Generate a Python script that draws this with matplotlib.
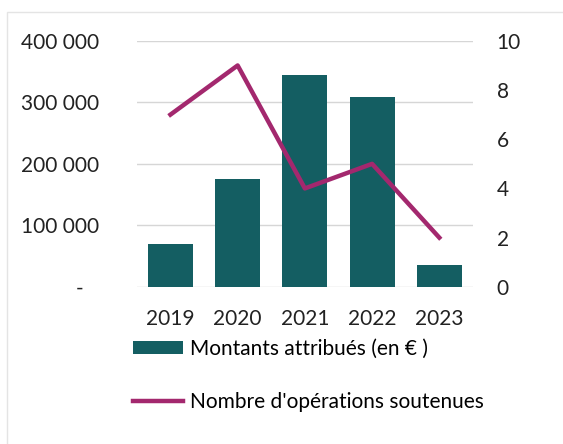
import matplotlib.pyplot as plt
from matplotlib.patches import Rectangle
from matplotlib.ticker import FuncFormatter

years = ["2019", "2020", "2021", "2022", "2023"]
montants = [70000, 175000, 345000, 308000, 35000]
operations = [7, 9, 4, 5, 2]

bar_color = "#145e62"
line_color = "#a3286e"

plt.rcParams["font.family"] = ["Lato", "DejaVu Sans"]
plt.rcParams["font.size"] = 15

fig = plt.figure(figsize=(5.63, 4.44), dpi=100)
ax = fig.add_axes([0.243, 0.354, 0.597, 0.554])

x = range(len(years))
bars = ax.bar(x, montants, width=0.67, color=bar_color, zorder=2,
              label="Montants attribués (en € )")
ax.set_xlim(-0.5, 4.5)
ax.set_ylim(0, 400000)
ax.set_yticks([0, 100000, 200000, 300000, 400000])


def fmt(v, pos):
    if v == 0:
        return "-   "
    return f"{int(v):,}".replace(",", " ")


ax.yaxis.set_major_formatter(FuncFormatter(fmt))
ax.set_xticks(list(x))
ax.set_xticklabels(years)
ax.grid(axis="y", color="#d6d6d6", linewidth=1, zorder=0)
for s in ax.spines.values():
    s.set_visible(False)
ax.tick_params(length=0, colors="#222222")
ax.tick_params(axis="y", pad=27)
ax.tick_params(axis="x", pad=16)

ax2 = ax.twinx()
line, = ax2.plot(x, operations, color=line_color, linewidth=3.2, zorder=3,
                 label="Nombre d'opérations soutenues")
ax2.set_ylim(0, 10)
ax2.set_yticks([0, 2, 4, 6, 8, 10])
for s in ax2.spines.values():
    s.set_visible(False)
ax2.tick_params(length=0, colors="#222222", pad=17)

fig.legend(handles=[bars, line], loc="upper left", bbox_to_anchor=(0.236, 0.237),
           frameon=False, handlelength=2.4, handleheight=0.6, handletextpad=0.35,
           labelspacing=1.6, borderaxespad=0, borderpad=0)

fig.patches.append(Rectangle((0.012, -0.1), 1.5, 1.073, transform=fig.transFigure,
                             fill=False, edgecolor="#e4e4e4", linewidth=1))

fig.savefig("out.png", dpi=100)
